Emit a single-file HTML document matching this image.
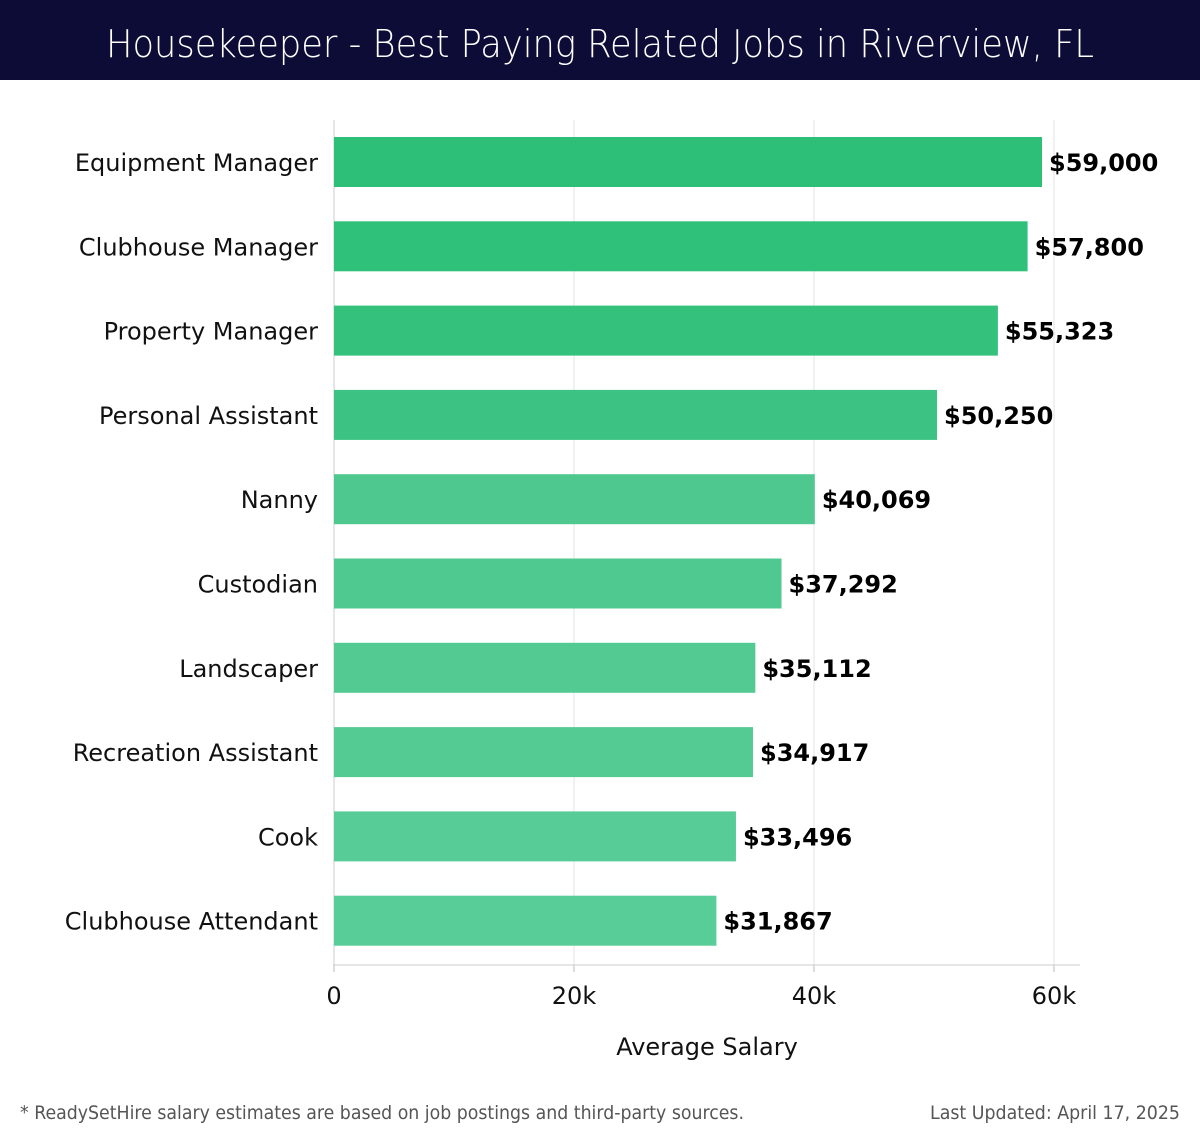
<!DOCTYPE html>
<html><head><meta charset="utf-8"><style>
html,body{margin:0;padding:0;background:#fff;}
body{width:1200px;height:1140px;overflow:hidden;font-family:"Liberation Sans","DejaVu Sans",sans-serif;}
</style></head><body>
<svg id="chart" width="1200" height="1140" xmlns="http://www.w3.org/2000/svg">
<rect x="0" y="0" width="1200" height="80" fill="#0d0c37"/>
<text x="106" y="57" textLength="988" lengthAdjust="spacingAndGlyphs" fill="#fff" font-size="38" font-family="'DejaVu Sans',sans-serif" font-weight="300">Housekeeper - Best Paying Related Jobs in Riverview, FL</text>
<g id="grid"></g><g id="bars"></g><g id="labels"></g>
<text x="707" y="1055" text-anchor="middle" font-size="24" font-family="'DejaVu Sans',sans-serif" fill="#111">Average Salary</text>
<text x="20" y="1119" textLength="724" lengthAdjust="spacingAndGlyphs" font-size="19" font-family="'DejaVu Sans',sans-serif" fill="#555">* ReadySetHire salary estimates are based on job postings and third-party sources.</text>
<text x="930" y="1119" textLength="250" lengthAdjust="spacingAndGlyphs" font-size="19" font-family="'DejaVu Sans',sans-serif" fill="#555">Last Updated: April 17, 2025</text>
</svg>
<script>
const categories=["Equipment Manager","Clubhouse Manager","Property Manager","Personal Assistant","Nanny","Custodian","Landscaper","Recreation Assistant","Cook","Clubhouse Attendant"];
const values=[59000,57800,55323,50250,40069,37292,35112,34917,33496,31867];
const tickValues=[0,20000,40000,60000];
const tickLabels=["0","20k","40k","60k"];
const NS="http://www.w3.org/2000/svg";
const x0=334,pxPer=240/20000,y0=162,step=84.3,bh=50;
const xs=v=>x0+v*pxPer, ys=i=>y0+i*step;
function el(t,a,p){const e=document.createElementNS(NS,t);for(const k in a)e.setAttribute(k,a[k]);p.appendChild(e);return e;}
const grid=document.getElementById('grid'),bars=document.getElementById('bars'),labels=document.getElementById('labels');
tickValues.forEach((v,i)=>{
 const g=el('line',{x1:xs(v),x2:xs(v),y1:120,y2:965,stroke:i==0?'#ccc':'#e3e3e3','stroke-width':1},grid);
 
 
 const tk=el('line',{x1:xs(v),x2:xs(v),y1:965,y2:972,stroke:'#bbb'},grid);
 
 
 const t=el('text',{x:xs(v),y:1004,'text-anchor':'middle','font-size':24,'font-family':"'DejaVu Sans',sans-serif",fill:'#111'},grid);
 t.textContent=tickLabels[i];
 
 
});
const ax=el('line',{x1:333,x2:1080,y1:965,y2:965,stroke:'#ccc'},grid);


const cols=['#2dbf78','#2fc07a','#33c17c','#3cc383','#4ec88e','#50c990','#53ca92','#55cb94','#57cc96','#59cd97'];
categories.forEach((c,i)=>{
 const cy=ys(i);
 const r=el('rect',{x:x0,y:cy-bh/2,width:xs(values[i])-x0,height:bh,fill:cols[i]},bars);
 
 
 const l=el('text',{x:318,y:cy+9,'text-anchor':'end','font-size':24,'font-family':"'DejaVu Sans',sans-serif",fill:'#111'},labels);
 l.textContent=c;
 
 
 const v=el('text',{x:xs(values[i])+7,y:cy+9,'font-size':24,'font-weight':'bold','font-family':"'DejaVu Sans',sans-serif",fill:'#000'},labels);
 v.textContent='$'+values[i].toLocaleString('en-US');
 
 
});
</script>
</body></html>
